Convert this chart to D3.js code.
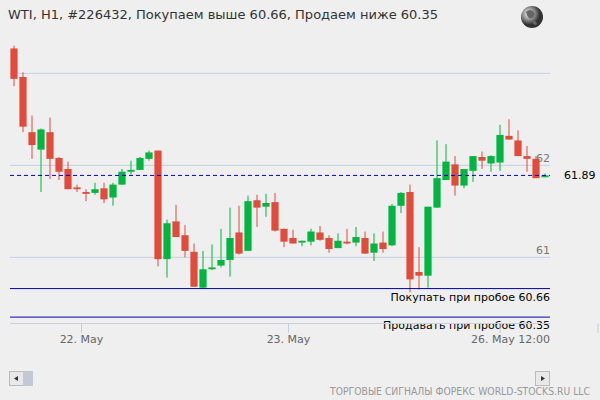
<!DOCTYPE html>
<html><head><meta charset="utf-8">
<script src="https://cdn.jsdelivr.net/npm/d3@7"></script>
<style>body{margin:0;background:#efefef}svg{display:block;font-family:"DejaVu Sans",sans-serif}</style>
</head><body><svg id="chart"></svg>
<script>
const width = 600, height = 400;

// OHLC, H1 candles
const opens  = [63.27,62.96,62.36,62.17,62.36,62.08,61.96,61.76,61.71,61.70,61.75,61.65,61.79,61.93,61.95,62.07,62.16,60.98,61.39,61.24,61.06,60.67,60.87,60.91,60.97,61.27,61.07,61.62,61.55,61.60,61.31,61.21,61.16,61.17,61.27,61.21,61.10,61.17,61.16,61.21,61.05,61.16,61.13,61.56,61.71,60.84,60.80,61.54,61.84,62.01,61.78,61.94,62.09,62.02,62.03,62.32,62.27,62.10,62.07,61.87];
const highs  = [63.30,63.01,62.54,62.40,62.52,62.09,62.04,61.79,61.74,61.81,61.81,61.81,61.96,62.05,62.09,62.16,62.16,61.41,61.57,61.35,61.15,61.07,61.14,61.31,61.54,61.56,61.67,61.68,61.69,61.70,61.31,61.30,61.18,61.31,61.34,61.24,61.26,61.31,61.33,61.28,61.26,61.28,61.58,61.71,61.79,61.11,61.55,62.27,62.23,62.10,61.96,62.10,62.15,62.11,62.44,62.50,62.38,62.21,62.10,61.91];
const lows   = [62.86,62.36,62.07,61.71,61.85,61.84,61.74,61.71,61.61,61.68,61.59,61.56,61.79,61.90,61.95,62.05,60.90,60.78,61.22,61.00,60.68,60.66,60.86,60.89,60.79,61.03,61.07,61.33,61.44,61.28,61.11,61.15,61.12,61.13,61.18,61.05,61.10,61.14,61.12,61.04,60.96,61.05,61.12,61.48,60.62,60.65,60.67,61.54,61.84,61.67,61.75,61.82,61.96,61.93,61.94,62.28,62.10,61.93,61.86,61.87];
const closes = [62.94,62.42,62.22,62.39,62.07,61.93,61.74,61.74,61.69,61.74,61.63,61.79,61.93,61.95,62.08,62.14,60.98,61.37,61.22,61.07,60.68,60.87,60.89,60.97,61.21,61.04,61.61,61.54,61.59,61.29,61.17,61.15,61.18,61.28,61.19,61.09,61.18,61.15,61.22,61.04,61.15,61.09,61.56,61.70,60.76,60.80,61.55,61.86,62.04,61.78,61.96,62.10,62.05,62.10,62.33,62.28,62.10,62.07,61.86,61.89];

const priceTicks = [61, 62, 63];
const dateTicks = [{i: 7.5, label: "22. May"}, {i: 30.5, label: "23. May"}, {i: 54, label: "26. May 12:00"}];
const lastPrice = 61.89;
const buyLevel = 60.66, sellLevel = 60.35;
const titleText = "WTI, H1, #226432, Покупаем выше 60.66, Продаем ниже 60.35";

const svg = d3.select("#chart").attr("width", width).attr("height", height);
svg.append("rect").attr("width", width).attr("height", height).attr("fill", "#efefef");

const x = d3.scaleBand().domain(d3.range(opens.length)).range([9.5, 549.5]).paddingInner(0.2).paddingOuter(0.1);
const y = d3.scaleLinear().domain([61, 62]).range([257.3, 165.3]);
const cx = i => x(i) + x.bandwidth() / 2;
const cxf = v => x(Math.floor(v)) + x.bandwidth() / 2 + (v % 1) * x.step();

// gridlines
svg.selectAll(".grid").data(priceTicks).join("line")
  .attr("x1", 10).attr("x2", 550).attr("y1", d => y(d)).attr("y2", d => y(d))
  .attr("stroke", "#c5cfdf").attr("stroke-width", 1);
svg.selectAll(".plab").data(priceTicks.filter(d => d < 63)).join("text")
  .attr("x", 550).attr("y", d => y(d) - 3).attr("text-anchor", "end")
  .attr("font-size", 11).attr("fill", "#777").text(d => d);

// candles
const g = svg.append("g");
opens.forEach((o, i) => {
  const c = closes[i];
  const col = c >= o ? "#00b540" : "#e04b3c";
  g.append("line").attr("x1", cx(i)).attr("x2", cx(i))
    .attr("y1", y(highs[i])).attr("y2", y(lows[i])).attr("stroke", col).attr("stroke-width", 1);
  g.append("rect").attr("x", x(i)).attr("width", x.bandwidth())
    .attr("y", y(Math.max(o, c))).attr("height", Math.max(1.5, Math.abs(y(o) - y(c))))
    .attr("fill", col);
});

// last price
svg.append("line").attr("x1", 10).attr("x2", 550).attr("y1", y(lastPrice)).attr("y2", y(lastPrice))
  .attr("stroke", "#0000cc").attr("stroke-dasharray", "4,3");
svg.append("text").attr("x", 564).attr("y", y(lastPrice) + 4).attr("font-size", 11).attr("fill", "#000").text(lastPrice.toFixed(2));

// signal levels
[[buyLevel, "Покупать при пробое " + buyLevel], [sellLevel, "Продавать при пробое " + sellLevel]].forEach(([v, t]) => {
  svg.append("line").attr("x1", 10).attr("x2", 550).attr("y1", y(v)).attr("y2", y(v))
    .attr("stroke", "#0000aa").attr("stroke-width", 1);
  svg.append("text").attr("x", 550).attr("y", y(v) + 12).attr("text-anchor", "end")
    .attr("font-size", 11).attr("fill", "#000").text(t);
});

// x axis
svg.append("line").attr("x1", 10).attr("x2", 550).attr("y1", 323.5).attr("y2", 323.5).attr("stroke", "#c5cfdf");
svg.selectAll(".xt").data(dateTicks).join("line")
  .attr("x1", d => cxf(d.i)).attr("x2", d => cxf(d.i)).attr("y1", 323.5).attr("y2", 333)
  .attr("stroke", "#c5cfdf");
svg.append("line").attr("x1", 598).attr("x2", 598).attr("y1", 323.5).attr("y2", 333).attr("stroke", "#c5cfdf");
svg.selectAll(".xl").data(dateTicks).join("text")
  .attr("x", d => d.i === 54 ? 550 : cxf(d.i)).attr("y", 343)
  .attr("text-anchor", d => d.i === 54 ? "end" : "middle")
  .attr("font-size", 11).attr("fill", "#666").text(d => d.label);

// scrollbar
svg.append("rect").attr("x", 9.5).attr("y", 371.5).attr("width", 14).attr("height", 14).attr("fill", "#e8e8e8").attr("stroke", "#bbb");
svg.append("rect").attr("x", 23).attr("y", 371).attr("width", 10).attr("height", 15).attr("fill", "#c2c9d3");
svg.append("rect").attr("x", 535.5).attr("y", 371.5).attr("width", 14).attr("height", 14).attr("fill", "#e8e8e8").attr("stroke", "#bbb");
svg.append("path").attr("d", "M18,376 L14,378.5 L18,381 Z").attr("fill", "#333");
svg.append("path").attr("d", "M541,376 L545,378.5 L541,381 Z").attr("fill", "#333");

// footer
svg.append("text").attr("x", 330).attr("y", 395).attr("textLength", 260).attr("lengthAdjust", "spacingAndGlyphs")
  .attr("font-size", 10).attr("fill", "#999").text("ТОРГОВЫЕ СИГНАЛЫ ФОРЕКС WORLD-STOCKS.RU LLC");

// title
svg.append("text").attr("x", 8).attr("y", 19).attr("font-size", 13).attr("fill", "#333").text(titleText);

// globe icon
const grad = svg.append("defs").append("radialGradient").attr("id", "gl").attr("cx", "35%").attr("cy", "35%");
grad.append("stop").attr("offset", "0%").attr("stop-color", "#fff");
grad.append("stop").attr("offset", "100%").attr("stop-color", "#333");
svg.append("circle").attr("cx", 532).attr("cy", 17).attr("r", 11).attr("fill", "url(#gl)");
svg.append("path").attr("d", "M526,12 q4,-4 8,0 q2,4 -2,6 q-4,2 -6,-6 Z M532,21 q4,-1 5,3 q-3,3 -5,-3 Z").attr("fill", "#666");
</script></body></html>
